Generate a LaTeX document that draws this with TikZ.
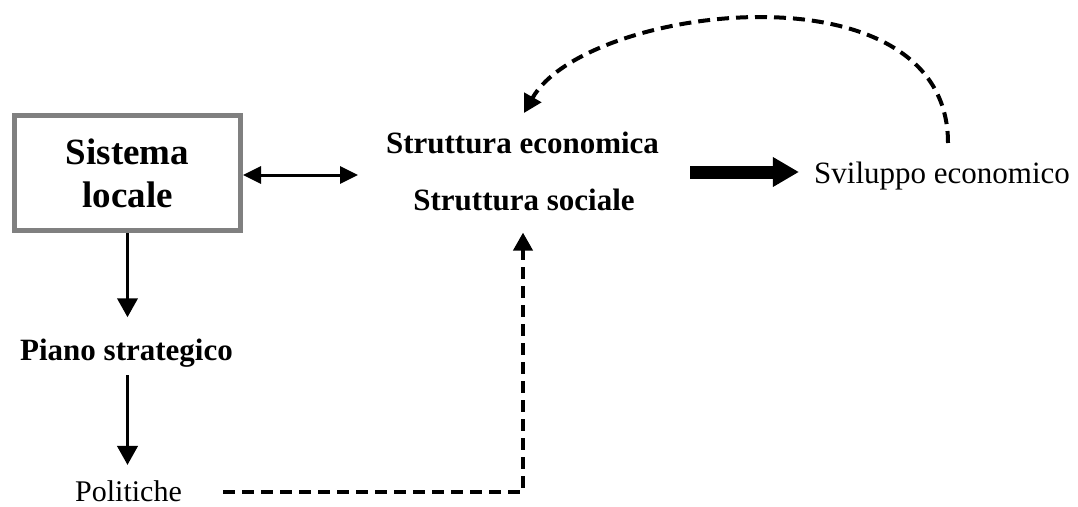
\documentclass[tikz,border=0pt]{standalone}
\usepackage{fontspec}
\setmainfont{Liberation Serif}
\usetikzlibrary{arrows.meta}
\definecolor{boxgray}{RGB}{128,128,128}
\begin{document}
\begin{tikzpicture}[x=1pt,y=-1pt,
  lbl/.style={inner sep=0pt, anchor=base, font=\fontsize{31}{37}\selectfont},
  blbl/.style={inner sep=0pt, anchor=base, font=\fontsize{31}{37}\selectfont\bfseries},
  sysbox/.style={draw=boxgray, line width=5pt, minimum width=226pt, minimum height=115pt,
    inner sep=0pt, align=center, font=\fontsize{37}{43}\selectfont\bfseries},
  dblarr/.style={line width=3pt, {Triangle[length=18pt,width=17pt]}-{Triangle[length=18pt,width=17pt]}},
  arr/.style={line width=3.8pt, -{Triangle[length=19pt,width=20pt]}},
  fatarr/.style={line width=13pt, -{Triangle[length=26pt,width=28pt]}},
  dasharr/.style={line width=4pt, dash pattern=on 12pt off 7pt, -{Triangle[length=18pt,width=19pt]}}
]
\useasboundingbox (0,0) rectangle (1078,506);

\node[sysbox] (sist) at (127.5,173) {Sistema\\locale};
\node[blbl] (se) at (522.5,153) {Struttura economica};
\node[blbl] (ss) at (524,210) {Struttura sociale};
\node[lbl] (sv) at (942,183) {Sviluppo economico};
\node[blbl] (ps) at (126.5,360) {Piano strategico};
\node[lbl, font=\fontsize{30}{36}\selectfont] (po) at (128.5,501) {Politiche};

\coordinate (dR) at (358,175);
\coordinate (tA) at (690,172);
\coordinate (pc) at (523,492);
\coordinate (aS) at (948,143);
\coordinate (aE) at (524,113);

\draw[dblarr] (sist.east |- dR) -- (dR);
\draw[arr, shorten >=21pt] (sist.south) -- (sist.south |- ps.north);
\draw[arr, shorten <=8pt, shorten >=15pt] (ps.south -| sist.south) -- (po.north -| sist.south);
\draw[fatarr, shorten >=15pt] (tA) -- (sv.west |- tA);
\draw[dasharr, shorten <=41pt, shorten >=22pt] (po.east |- pc) -- (pc) -- (pc |- ss.south);
\draw[dasharr] (aS) .. controls (948,-40) and (585,5) .. (aE);
\end{tikzpicture}
\end{document}
